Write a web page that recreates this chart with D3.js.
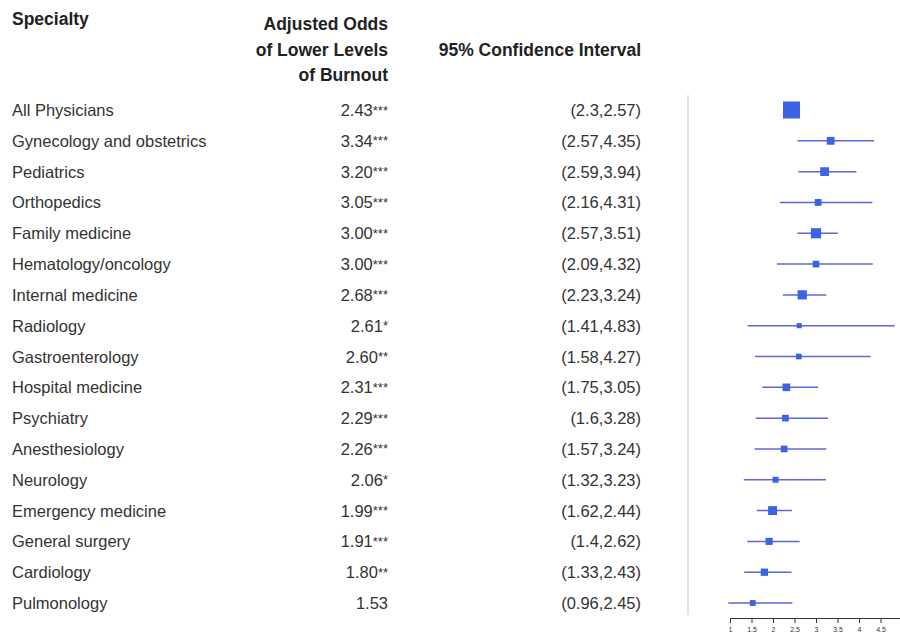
<!DOCTYPE html>
<html>
<head>
<meta charset="utf-8">
<script src="https://cdn.jsdelivr.net/npm/d3@7"></script>
<style>
  body { margin: 0; background: #fff; }
  svg { display: block; font-family: "Liberation Sans", Arial, sans-serif; }
</style>
</head>
<body>
<svg id="chart" width="900" height="638"></svg>
<script>
const specialties = ["All Physicians", "Gynecology and obstetrics", "Pediatrics", "Orthopedics",
  "Family medicine", "Hematology/oncology", "Internal medicine", "Radiology", "Gastroenterology",
  "Hospital medicine", "Psychiatry", "Anesthesiology", "Neurology", "Emergency medicine",
  "General surgery", "Cardiology", "Pulmonology"];
const odds = [2.43, 3.34, 3.20, 3.05, 3.00, 3.00, 2.68, 2.61, 2.60, 2.31, 2.29, 2.26, 2.06, 1.99, 1.91, 1.80, 1.53];
const stars = ["***", "***", "***", "***", "***", "***", "***", "*", "**", "***", "***", "***", "*", "***", "***", "**", ""];
const lower = [2.3, 2.57, 2.59, 2.16, 2.57, 2.09, 2.23, 1.41, 1.58, 1.75, 1.6, 1.57, 1.32, 1.62, 1.4, 1.33, 0.96];
const upper = [2.57, 4.35, 3.94, 4.31, 3.51, 4.32, 3.24, 4.83, 4.27, 3.05, 3.28, 3.24, 3.23, 2.44, 2.62, 2.43, 2.45];
const axisTicks = [1, 1.5, 2, 2.5, 3, 3.5, 4, 4.5, 5];

const svg = d3.select("#chart");
const textColor = "#333";
const headSize = 17.5;
const bodySize = 16.5;

const rows = specialties.map((s, i) => ({
  name: s, or: odds[i], star: stars[i], lo: lower[i], hi: upper[i]
}));

const y = d3.scalePoint()
  .domain(specialties)
  .range([110, 603]);

const x = d3.scaleLinear()
  .domain([1, 5])
  .range([730, 902]);

// box side ~ sqrt of precision (inverse of log CI width)
const boxSize = d => 5.67 / Math.sqrt(Math.log(d.hi / d.lo));

// -------------------- HEADERS --------------------
svg.append("text")
  .attr("x", 12).attr("y", 25)
  .attr("font-size", headSize).attr("font-weight", "bold").attr("fill", "#222")
  .text("Specialty");

["Adjusted Odds", "of Lower Levels", "of Burnout"].forEach((t, i) => {
  svg.append("text")
    .attr("x", 388).attr("y", 30 + i * 25.7)
    .attr("text-anchor", "end")
    .attr("font-size", headSize).attr("font-weight", "bold").attr("fill", "#222")
    .text(t);
});

svg.append("text")
  .attr("x", 641).attr("y", 56)
  .attr("text-anchor", "end")
  .attr("font-size", headSize).attr("font-weight", "bold").attr("fill", "#222")
  .text("95% Confidence Interval");

// -------------------- TABLE --------------------
const tbl = svg.append("g");

tbl.selectAll("text.name")
  .data(rows).enter().append("text")
  .attr("class", "name")
  .attr("x", 12).attr("y", d => y(d.name) + 6)
  .attr("font-size", bodySize).attr("fill", textColor)
  .text(d => d.name);

const orText = tbl.selectAll("text.or")
  .data(rows).enter().append("text")
  .attr("class", "or")
  .attr("x", 388).attr("y", d => y(d.name) + 6)
  .attr("text-anchor", "end")
  .attr("font-size", bodySize).attr("fill", textColor);
orText.append("tspan").text(d => d.or.toFixed(2));
// asterisks are small and raised in the original
orText.append("tspan")
  .attr("font-size", 13)
  .attr("dy", -1.5)
  .text(d => d.star);

tbl.selectAll("text.ci")
  .data(rows).enter().append("text")
  .attr("class", "ci")
  .attr("x", 641).attr("y", d => y(d.name) + 6)
  .attr("text-anchor", "end")
  .attr("font-size", bodySize).attr("fill", textColor)
  .text(d => `(${d.lo},${d.hi})`);

// -------------------- FOREST --------------------
svg.append("line")
  .attr("x1", 688).attr("x2", 688)
  .attr("y1", 95).attr("y2", 615)
  .attr("stroke", "#e2e2e2").attr("stroke-width", 2);

const g = svg.append("g");

g.selectAll("line.ci")
  .data(rows).enter().append("line")
  .attr("class", "ci")
  .attr("x1", d => x(d.lo)).attr("x2", d => x(d.hi))
  .attr("y1", d => y(d.name)).attr("y2", d => y(d.name))
  .attr("stroke", "#5e66d6").attr("stroke-width", 1.5);

g.selectAll("rect")
  .data(rows).enter().append("rect")
  .attr("x", d => x(d.or) - boxSize(d) / 2)
  .attr("y", d => y(d.name) - boxSize(d) / 2)
  .attr("width", d => boxSize(d))
  .attr("height", d => boxSize(d))
  .attr("fill", "#3b63e3");

const ax = svg.append("g")
  .attr("transform", "translate(0,618)")
  .call(d3.axisBottom(x).tickValues(axisTicks).tickSize(5).tickPadding(4).tickFormat(d3.format("")));
ax.select(".domain").attr("stroke", "#333");
ax.selectAll(".tick line").attr("stroke", "#333");
ax.selectAll(".tick text").attr("font-size", 7).attr("fill", "#333")
  .attr("font-family", "'Liberation Sans', Arial, sans-serif");
</script>
</body>
</html>
